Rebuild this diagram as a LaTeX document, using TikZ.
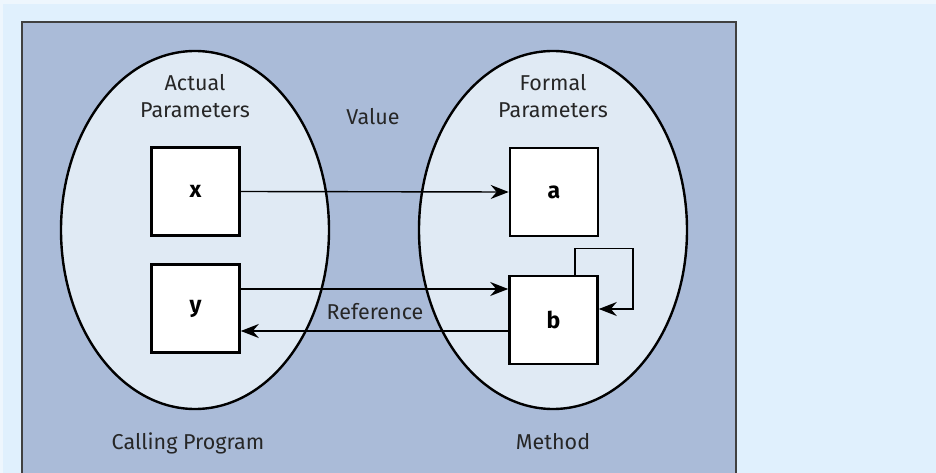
\documentclass[tikz,border=0pt]{standalone}
\usepackage{fontspec}
\setmainfont{Fira Sans}
\usetikzlibrary{arrows.meta,shapes.geometric}
\definecolor{pagebg}{RGB}{224,240,253}
\definecolor{pagerim}{RGB}{238,246,253}
\definecolor{panelbg}{RGB}{170,187,216}
\definecolor{setbg}{RGB}{224,234,244}
\begin{document}
\begin{tikzpicture}[x=1pt,y=-1pt,
  lbl/.style={font=\fontsize{21.5}{27}\selectfont, text=black!85, align=center, inner sep=0pt},
  setshape/.style={ellipse, draw, line width=2.4pt, fill=setbg, minimum width=268pt, minimum height=358pt, inner sep=0pt},
  varbox/.style={draw, line width=2.6pt, fill=white, minimum width=88pt, minimum height=88pt, inner sep=0pt, font=\bfseries\fontsize{23}{24}\selectfont},
  arr/.style={line width=1.4pt, -{Stealth[length=18pt,width=14pt,inset=6pt]}}]
\useasboundingbox (0,0) rectangle (936,473);
% page background
\fill[pagerim] (0,0) rectangle (936,473);
\fill[pagebg] (3,4) rectangle (936,473);
% panel
\draw[fill=panelbg, draw=black!75, line width=1.4pt] (22,22) rectangle (736,490);
% the two parameter sets
\node[setshape] (actual) at (195,230) {};
\node[setshape] (formal) at (553,230) {};
% set titles and section labels
\node[lbl] (actualtitle) at (195,96) {Actual\\Parameters};
\node[lbl] (formaltitle) at (553,96) {Formal\\Parameters};
\node[lbl] (value) at (373,117) {Value};
\node[lbl] (reference) at (375,312) {Reference};
\node[lbl] (caller) at (188,443) {Calling Program};
\node[lbl] (method) at (553,442) {Method};
% variables
\node[varbox] (x) at (195.5,191.5) {x};
\node[varbox] (y) at (195.5,308.5) {y};
\node[varbox] (a) at (554,192) {a};
\node[varbox] (b) at (553.5,320) {b};
% call by value
\draw[arr] (x.east) -- (a.west);
% call by reference
\draw[arr] ([yshift=19.5pt]y.east) -- ([yshift=19.5pt]y.east -| b.west);
\draw[arr] ([yshift=-22.5pt]y.east -| b.west) -- ([yshift=-22.5pt]y.east);
% reassignment of b
\draw[arr] ([xshift=21.5pt]b.north) -- ++(0,-26) -- ++(58,0) |- ([yshift=11pt]b.east);
\end{tikzpicture}
\end{document}
